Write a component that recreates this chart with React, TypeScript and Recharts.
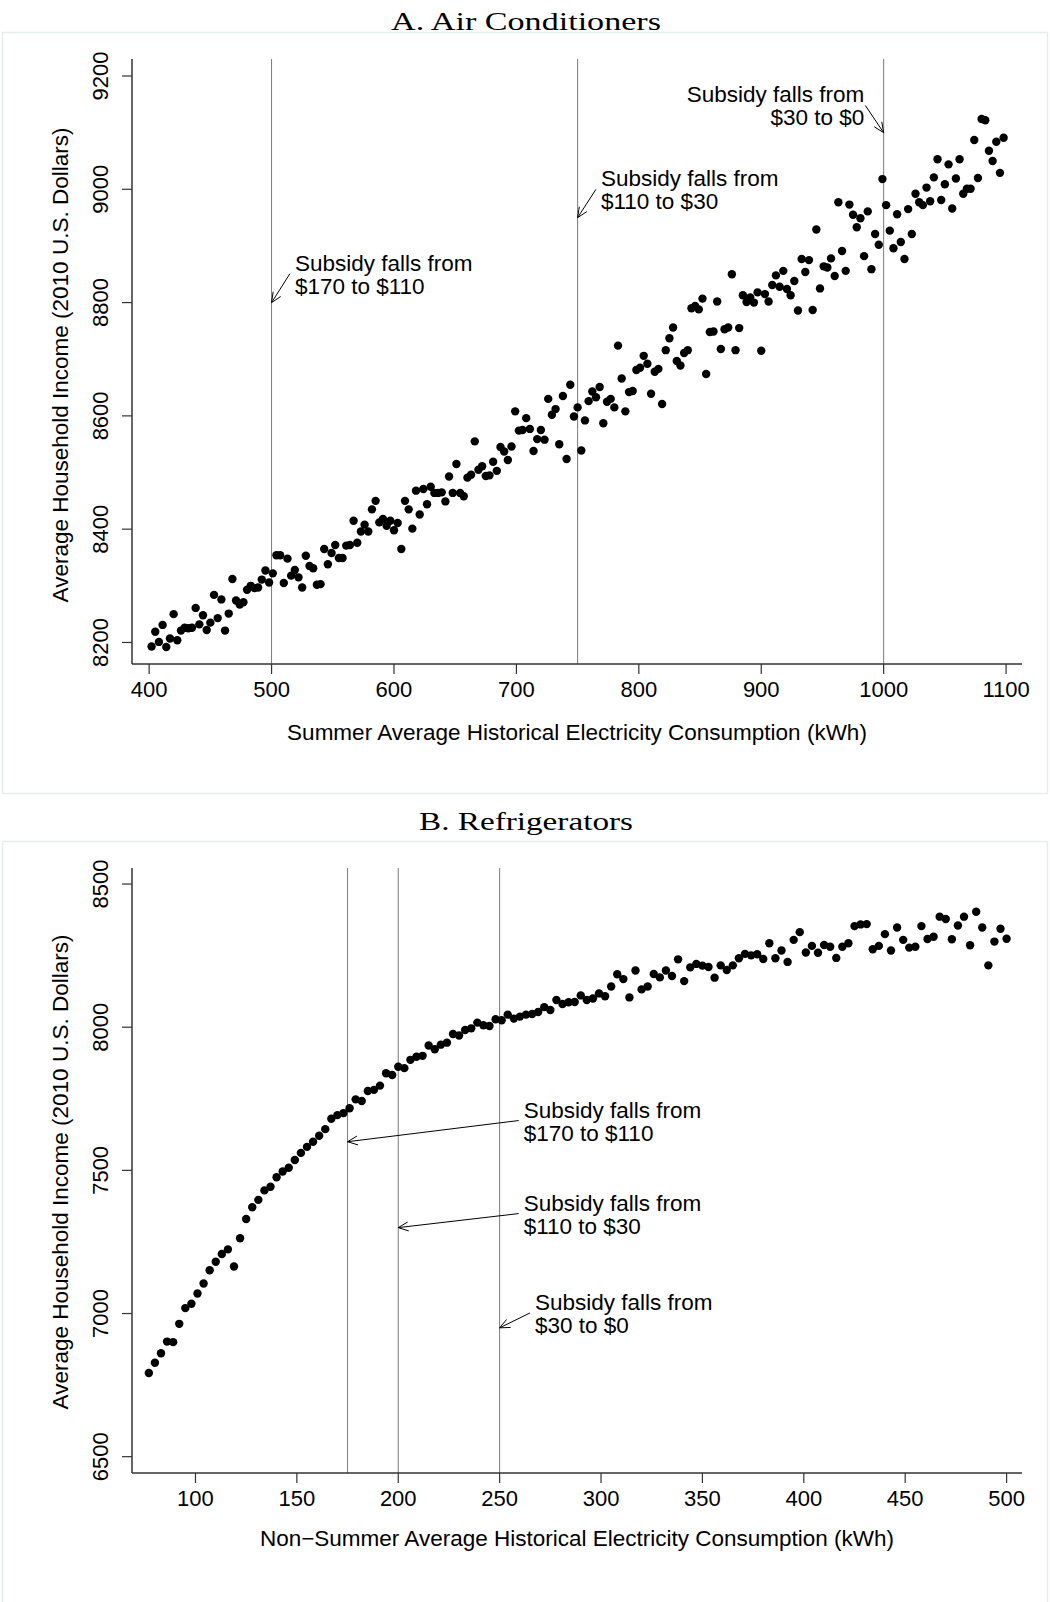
import React from "react";
import { ScatterChart, Scatter, XAxis, YAxis, ReferenceLine } from "recharts";

const SANS = '"Liberation Sans", Arial, Helvetica, sans-serif';
const SERIF = '"Liberation Serif", "Times New Roman", serif';

// Panel A: air conditioners, binned summer consumption (kWh) vs. mean income
const acKwh = [
  402, 405, 408, 411, 414, 417, 420, 423, 426, 429, 432, 435, 438, 441, 444, 447, 450, 453, 456, 459,
  462, 465, 468, 471, 474, 477, 480, 483, 486, 489, 492, 495, 498, 501, 504, 507, 510, 513, 516, 519,
  522, 525, 528, 531, 534, 537, 540, 543, 546, 549, 552, 555, 558, 561, 564, 567, 570, 573, 576, 579,
  582, 585, 588, 591, 594, 597, 600, 603, 606, 609, 612, 615, 618, 621, 624, 627, 630, 633, 636, 639,
  642, 645, 648, 651, 654, 657, 660, 663, 666, 669, 672, 675, 678, 681, 684, 687, 690, 693, 696, 699,
  702, 705, 708, 711, 714, 717, 720, 723, 726, 729, 732, 735, 738, 741, 744, 747, 750, 753, 756, 759,
  762, 765, 768, 771, 774, 777, 780, 783, 786, 789, 792, 795, 798, 801, 804, 807, 810, 813, 816, 819,
  822, 825, 828, 831, 834, 837, 840, 843, 846, 849, 852, 855, 858, 861, 864, 867, 870, 873, 876, 879,
  882, 885, 888, 891, 894, 897, 900, 903, 906, 909, 912, 915, 918, 921, 924, 927, 930, 933, 936, 939,
  942, 945, 948, 951, 954, 957, 960, 963, 966, 969, 972, 975, 978, 981, 984, 987, 990, 993, 996, 999,
  1002, 1005, 1008, 1011, 1014, 1017, 1020, 1023, 1026, 1029, 1032, 1035, 1038, 1041, 1044, 1047,
  1050, 1053, 1056, 1059, 1062, 1065, 1068, 1071, 1074, 1077, 1080, 1083, 1086, 1089, 1092, 1095, 1098,
];
const acIncome = [
  8193, 8219, 8201, 8231, 8192, 8207, 8250, 8204, 8221, 8226, 8225, 8226, 8261, 8232, 8248, 8222, 8235, 8284, 8243, 8276,
  8221, 8251, 8312, 8274, 8267, 8271, 8293, 8300, 8296, 8297, 8311, 8327, 8306, 8322, 8354, 8354, 8305, 8348, 8318, 8328,
  8315, 8297, 8353, 8335, 8331, 8302, 8303, 8365, 8338, 8358, 8372, 8349, 8349, 8371, 8372, 8415, 8376, 8396, 8408, 8396,
  8435, 8450, 8412, 8418, 8406, 8415, 8398, 8411, 8365, 8450, 8435, 8401, 8468, 8426, 8471, 8444, 8475, 8464, 8464, 8465,
  8449, 8493, 8464, 8515, 8464, 8458, 8491, 8496, 8555, 8505, 8511, 8494, 8495, 8519, 8503, 8545, 8537, 8522, 8546, 8608,
  8574, 8575, 8596, 8577, 8538, 8559, 8575, 8558, 8630, 8602, 8612, 8550, 8635, 8524, 8655, 8599, 8615, 8539, 8592, 8626,
  8643, 8633, 8651, 8587, 8625, 8630, 8615, 8724, 8666, 8608, 8642, 8644, 8681, 8685, 8706, 8692, 8639, 8678, 8683, 8621,
  8716, 8737, 8756, 8697, 8689, 8711, 8716, 8790, 8794, 8788, 8807, 8674, 8748, 8749, 8802, 8718, 8753, 8756, 8850, 8716,
  8755, 8813, 8801, 8809, 8800, 8818, 8715, 8815, 8802, 8831, 8848, 8828, 8856, 8824, 8813, 8838, 8786, 8877, 8854, 8875,
  8787, 8929, 8825, 8864, 8862, 8878, 8847, 8977, 8891, 8856, 8973, 8955, 8933, 8949, 8882, 8961, 8859, 8921, 8902, 9018,
  8972, 8927, 8896, 8956, 8907, 8877, 8965, 8921, 8992, 8977, 8972, 9003, 8979, 9021, 9053, 8981,
  9009, 9044, 8966, 9019, 9053, 8992, 9001, 9001, 9087, 9020, 9124, 9122, 9068, 9050, 9084, 9029, 9091,
];

// Panel B: refrigerators, binned non-summer consumption (kWh) vs. mean income
const frKwh = [
  77, 80, 83, 86, 89, 92, 95, 98, 101, 104, 107, 110, 113, 116, 119, 122, 125, 128, 131, 134,
  137, 140, 143, 146, 149, 152, 155, 158, 161, 164, 167, 170, 173, 176, 179, 182, 185, 188, 191, 194,
  197, 200, 203, 206, 209, 212, 215, 218, 221, 224, 227, 230, 233, 236, 239, 242, 245, 248, 251, 254,
  257, 260, 263, 266, 269, 272, 275, 278, 281, 284, 287, 290, 293, 296, 299, 302, 305, 308, 311, 314,
  317, 320, 323, 326, 329, 332, 335, 338, 341, 344, 347, 350, 353, 356, 359, 362, 365, 368, 371, 374,
  377, 380, 383, 386, 389, 392, 395, 398, 401, 404, 407, 410, 413, 416, 419, 422, 425, 428, 431, 434,
  437, 440, 443, 446, 449, 452, 455, 458, 461, 464, 467, 470, 473, 476, 479, 482, 485, 488, 491, 494,
  497, 500,
];
const frIncome = [
  6792, 6828, 6861, 6902, 6900, 6964, 7019, 7034, 7070, 7105, 7151, 7181, 7208, 7224, 7164, 7263, 7330, 7371, 7397, 7430,
  7443, 7476, 7496, 7509, 7536, 7561, 7582, 7600, 7621, 7644, 7680, 7693, 7700, 7717, 7748, 7742, 7777, 7781, 7796, 7839,
  7833, 7862, 7857, 7886, 7897, 7900, 7936, 7923, 7939, 7946, 7976, 7971, 7990, 7996, 8016, 8007, 8004, 8028, 8024, 8044,
  8030, 8037, 8044, 8046, 8053, 8070, 8060, 8095, 8081, 8087, 8088, 8111, 8095, 8100, 8118, 8108, 8142, 8185, 8168, 8104,
  8198, 8132, 8142, 8186, 8174, 8198, 8179, 8237, 8161, 8209, 8221, 8215, 8210, 8173, 8216, 8200, 8216, 8241, 8256, 8251,
  8255, 8238, 8293, 8241, 8268, 8228, 8305, 8332, 8261, 8284, 8260, 8287, 8281, 8242, 8281, 8293, 8353, 8359, 8360, 8272,
  8284, 8325, 8268, 8348, 8305, 8278, 8281, 8353, 8308, 8316, 8386, 8378, 8307, 8355, 8386, 8286, 8403, 8348, 8216, 8299,
  8344, 8309,
];

const acTicksX = [400, 500, 600, 700, 800, 900, 1000, 1100];
const acTicksY = [8200, 8400, 8600, 8800, 9000, 9200];
const frTicksX = [100, 150, 200, 250, 300, 350, 400, 450, 500];
const frTicksY = [6500, 7000, 7500, 8000, 8500];

// subsidy notch points
const acCutoffs = [500, 750, 1000];
const frCutoffs = [175, 200, 250];

type Note = {
  lines: [string, string];
  tail: [number, number];
  tip: [number, number];
  side: "left" | "right";
};

const acNotes: Note[] = [
  { lines: ["Subsidy falls from", "$170 to $110"], tail: [515, 8851], tip: [500, 8800], side: "right" },
  { lines: ["Subsidy falls from", "$110 to $30"], tail: [765, 9000], tip: [750, 8950], side: "right" },
  { lines: ["Subsidy falls from", "$30 to $0"], tail: [985, 9148], tip: [1000, 9100], side: "left" },
];
const frNotes: Note[] = [
  { lines: ["Subsidy falls from", "$170 to $110"], tail: [259.4, 7674], tip: [175, 7600], side: "right" },
  { lines: ["Subsidy falls from", "$110 to $30"], tail: [259.4, 7349], tip: [200, 7300], side: "right" },
  { lines: ["Subsidy falls from", "$30 to $0"], tail: [265, 7002], tip: [250, 6950], side: "right" },
];

const zip = (xs: number[], ys: number[]) => xs.map((x, i) => ({ x, y: ys[i] }));

const Dot = (p: any) => <circle cx={p.cx} cy={p.cy} r={4.2} fill="#000" />;

const YTick = (p: any) => {
  const bx = p.x - 12;
  return (
    <text
      x={bx}
      y={p.y}
      transform={`rotate(-90 ${bx} ${p.y})`}
      textAnchor="middle"
      fontFamily={SANS}
      fontSize={22}
      fill="#000"
    >
      {p.payload.value}
    </text>
  );
};

const XTick = (p: any) => (
  <text x={p.x} y={p.y + 21} textAnchor="middle" fontFamily={SANS} fontSize={22} fill="#000">
    {p.payload.value}
  </text>
);

// arrow from the note text to the cutoff line, with an open arrowhead
const noteShape = (note: Note) => (p: any) => {
  const { x1, y1, x2, y2 } = p;
  const a = Math.atan2(y2 - y1, x2 - x1);
  const len = 11;
  const spread = 0.42;
  const h1x = x2 - len * Math.cos(a - spread);
  const h1y = y2 - len * Math.sin(a - spread);
  const h2x = x2 - len * Math.cos(a + spread);
  const h2y = y2 - len * Math.sin(a + spread);
  const tx = note.side === "right" ? x1 + 5 : x1 - 1;
  const anchor = note.side === "right" ? "start" : "end";
  return (
    <g>
      <line x1={x1} y1={y1} x2={x2} y2={y2} stroke="#000" strokeWidth={1} />
      <polyline
        points={`${h1x},${h1y} ${x2},${y2} ${h2x},${h2y}`}
        fill="none"
        stroke="#000"
        strokeWidth={1}
      />
      <text x={tx} y={y1 - 3} textAnchor={anchor} fontFamily={SANS} fontSize={22.5} fill="#000">
        {note.lines[0]}
      </text>
      <text x={tx} y={y1 + 20} textAnchor={anchor} fontFamily={SANS} fontSize={22.5} fill="#000">
        {note.lines[1]}
      </text>
    </g>
  );
};

function Panel({
  top,
  height,
  marginTop,
  marginBottom,
  data,
  xDomain,
  yDomain,
  xTicks,
  yTicks,
  cutoffs,
  notes,
}: {
  top: number;
  height: number;
  marginTop: number;
  marginBottom: number;
  data: { x: number; y: number }[];
  xDomain: [number, number];
  yDomain: [number, number];
  xTicks: number[];
  yTicks: number[];
  cutoffs: number[];
  notes: Note[];
}) {
  const axis = { stroke: "#333", strokeWidth: 1.5 };
  return (
    <div style={{ position: "absolute", left: 0, top }}>
      <ScatterChart
        width={1050}
        height={height}
        margin={{ top: marginTop, right: 28, bottom: marginBottom, left: 52 }}
      >
        <XAxis
          type="number"
          dataKey="x"
          domain={xDomain}
          ticks={xTicks}
          allowDataOverflow
          height={80}
          tickSize={10}
          axisLine={axis}
          tickLine={{ stroke: "#333", strokeWidth: 1.2 }}
          tick={<XTick />}
          interval={0}
        />
        <YAxis
          type="number"
          dataKey="y"
          domain={yDomain}
          ticks={yTicks}
          allowDataOverflow
          width={80}
          tickSize={10}
          axisLine={axis}
          tickLine={{ stroke: "#333", strokeWidth: 1.2 }}
          tick={<YTick />}
          interval={0}
        />
        {cutoffs.map((c) => (
          <ReferenceLine key={c} x={c} stroke="#7a7a7a" strokeWidth={1} />
        ))}
        <Scatter data={data} shape={Dot} isAnimationActive={false} />
        {notes.map((n, i) => (
          <ReferenceLine
            key={`note-${i}`}
            segment={[
              { x: n.tail[0], y: n.tail[1] },
              { x: n.tip[0], y: n.tip[1] },
            ]}
            ifOverflow="visible"
            shape={noteShape(n)}
          />
        ))}
      </ScatterChart>
    </div>
  );
}

export default function App() {
  return (
    <div
      style={{
        position: "absolute",
        left: 0,
        top: 0,
        width: 1050,
        height: 1602,
        background: "#fff",
        overflow: "hidden",
      }}
    >
      <svg width={1050} height={1602} style={{ position: "absolute", left: 0, top: 0 }}>
        <rect x={2.5} y={32.5} width={1045} height={761} fill="none" stroke="#e6edeb" strokeWidth={1.5} />
        <rect x={2.5} y={841.5} width={1045} height={800} fill="none" stroke="#e6edeb" strokeWidth={1.5} />
        <text x={526} y={30} textAnchor="middle" fontFamily={SERIF} fontSize={26} textLength={270} lengthAdjust="spacingAndGlyphs">
          A. Air Conditioners
        </text>
        <text x={526} y={829.5} textAnchor="middle" fontFamily={SERIF} fontSize={26} textLength={214} lengthAdjust="spacingAndGlyphs">
          B. Refrigerators
        </text>
        <text x={577} y={740} textAnchor="middle" fontFamily={SANS} fontSize={22.5}>
          Summer Average Historical Electricity Consumption (kWh)
        </text>
        <text x={577} y={1546} textAnchor="middle" fontFamily={SANS} fontSize={22.5}>
          Non−Summer Average Historical Electricity Consumption (kWh)
        </text>
        <text x={68} y={365} transform="rotate(-90 68 365)" textAnchor="middle" fontFamily={SANS} fontSize={22.5}>
          Average Household Income (2010 U.S. Dollars)
        </text>
        <text x={68} y={1172} transform="rotate(-90 68 1172)" textAnchor="middle" fontFamily={SANS} fontSize={22.5}>
          Average Household Income (2010 U.S. Dollars)
        </text>
      </svg>
      <Panel
        top={0}
        height={800}
        marginTop={59}
        marginBottom={56}
        data={zip(acKwh, acIncome)}
        xDomain={[386, 1113]}
        yDomain={[8162, 9230]}
        xTicks={acTicksX}
        yTicks={acTicksY}
        cutoffs={acCutoffs}
        notes={acNotes}
      />
      <Panel
        top={800}
        height={802}
        marginTop={68}
        marginBottom={49}
        data={zip(frKwh, frIncome)}
        xDomain={[68.7, 507.6]}
        yDomain={[6443, 8556]}
        xTicks={frTicksX}
        yTicks={frTicksY}
        cutoffs={frCutoffs}
        notes={frNotes}
      />
    </div>
  );
}
